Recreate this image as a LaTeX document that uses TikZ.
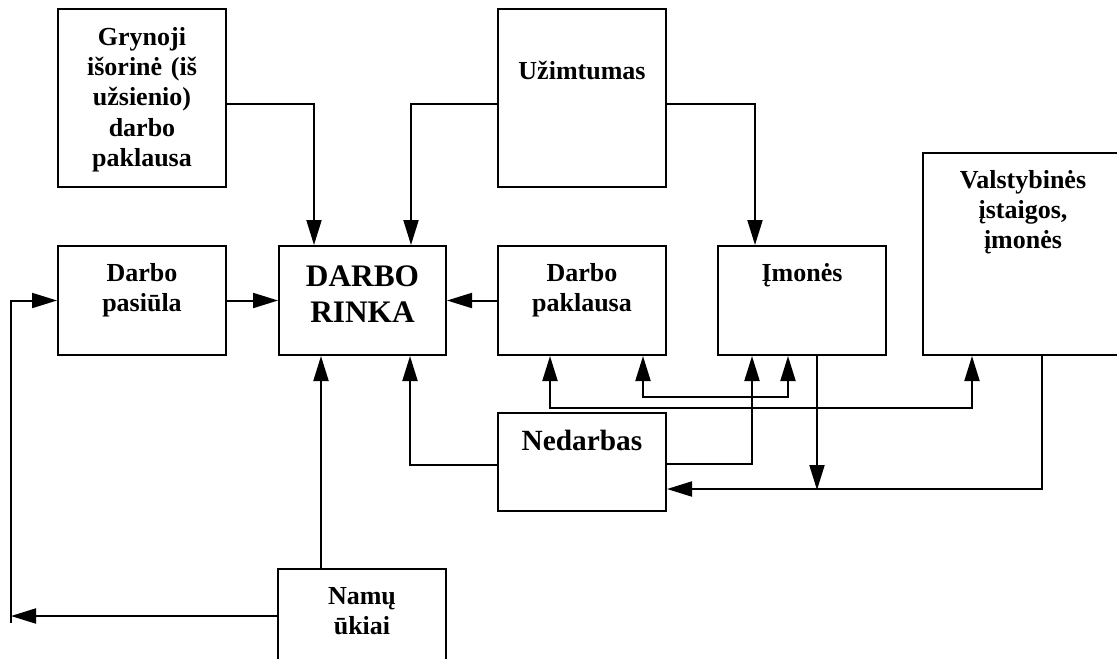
\documentclass[tikz,border=0pt]{standalone}
\usepackage{fontspec}
\setmainfont{Liberation Serif}
\usetikzlibrary{arrows.meta,calc,fit}
\begin{document}
\begin{tikzpicture}[x=0.75pt,y=-0.75pt,
  line width=1.5pt,
  box/.style={draw, inner sep=0pt, line width=1.5pt},
  txt/.style={inner sep=0pt, text width=120pt, align=center,
    font=\bfseries\fontsize{19.5pt}{22.8pt}\selectfont},
  tip/.tip={Triangle[length=18.75pt,width=11.25pt]},
  arr/.style={-tip},
  both/.style={tip-tip}]

\useasboundingbox (0,0) rectangle (1117,658);
\clip (0,0) rectangle (1117,658);

% boxes
\node[box, fit={(58,9) (226,187)}]    (gry) {};
\node[box, fit={(498,9) (666,187)}]   (uzi) {};
\node[box, fit={(58,246) (226,355)}]  (pas) {};
\node[box, fit={(279,246) (446,355)}] (rin) {};
\node[box, fit={(498,246) (666,355)}] (pak) {};
\node[box, fit={(718,246) (886,355)}] (imo) {};
\node[box, fit={(923,153) (1125,355)}] (val) {};
\node[box, fit={(498,413) (666,511)}] (ned) {};
\node[box, fit={(278,569) (446,680)}] (nam) {};

% box texts
\node[txt, anchor=base] (gryT) at ($(gry.north)+(0,37)$)
  {Grynoji\\išorinė (iš\\užsienio)\\darbo\\paklausa};
\node[txt, anchor=base] (uziT) at ($(uzi.north)+(0,71)$) {Užimtumas};
\node[txt, anchor=base] (pasT) at ($(pas.north)+(0,36)$) {Darbo\\pasiūla};
\node[txt, anchor=base, font=\bfseries\fontsize{23.5pt}{27pt}\selectfont]
  (rinT) at ($(rin.north)+(0,41)$) {DARBO\\RINKA};
\node[txt, anchor=base] (pakT) at ($(pak.north)+(0,36)$) {Darbo\\paklausa};
\node[txt, anchor=base] (imoT) at ($(imo.north)+(0,36)$) {Įmonės};
\node[txt, anchor=base] (valT) at ($(val.north west)+(101,36)$)
  {Valstybinės\\įstaigos,\\įmonės};
\node[txt, anchor=base, font=\bfseries\fontsize{22pt}{26pt}\selectfont]
  (nedT) at ($(ned.north)+(0,38)$) {Nedarbas};
\node[txt, anchor=base] (namT) at ($(nam.north)+(0,36)$) {Namų\\ūkiai};

% connectors into the labour market
\draw[arr] ($(gry.east)+(0,6)$) -| ($(rin.north west)+(36,0)$);
\draw[arr] ($(uzi.west)+(0,6)$) -| ($(rin.north east)+(-36,0)$);
\draw[arr] ($(uzi.east)+(0,6)$) -| ($(imo.north west)+(38,0)$);
\draw[arr] (pas.east) -- (rin.west);
\draw[arr] (pak.west) -- (rin.east);
\coordinate (namTop) at ($(nam.north west)+(44,0)$);
\draw[arr] (namTop) -- (namTop |- rin.south);

% household feedback loop to labour supply
\coordinate (namLeft) at ($(nam.north west)+(0,48)$);
\coordinate (loopBot) at (11,623);
\draw[arr] (namLeft) -- (namLeft -| loopBot);
\draw[arr] (loopBot) |- (pas.west);

% unemployment links
\draw[arr] ($(ned.west)+(0,3)$) -| ($(rin.south east)+(-37,0)$);
\draw[arr] ($(ned.east)+(0,2)$) -| ($(imo.south west)+(35,0)$);

% demand links
\draw[both] ($(pak.south west)+(53,0)$) -- ++(0,52) -| ($(val.south west)+(50,0)$);
\draw[both] ($(pak.south west)+(146,0)$) -- ++(0,41) -| ($(imo.south west)+(71,0)$);
\draw[arr] ($(imo.south west)+(100,0)$) -- ++(0,134);
\draw[arr] ($(val.south west)+(120,0)$) |- ($(ned.east)+(0,27)$);

\end{tikzpicture}
\end{document}
